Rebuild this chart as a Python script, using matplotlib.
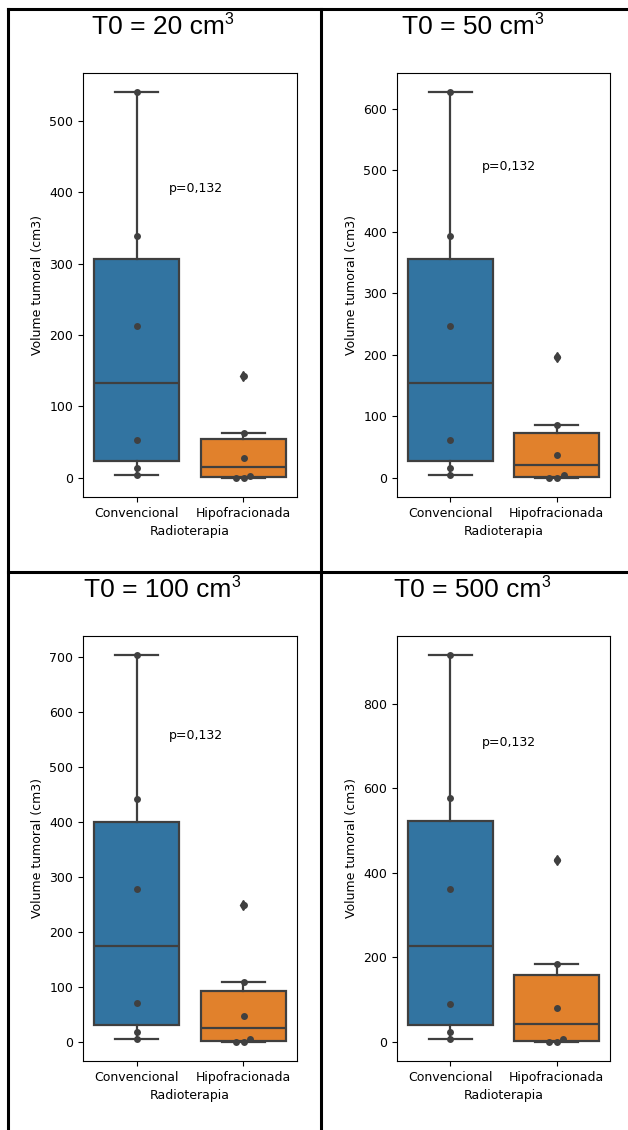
import matplotlib
matplotlib.use("Agg")
import matplotlib.pyplot as plt
from matplotlib.lines import Line2D
import numpy as np
import pandas as pd
import seaborn as sns

# volumes (6 patients per arm)
titles = ["20", "50", "100", "500"]
conv_20 = [4, 14, 53, 213, 338, 540]
hipo_20 = [0, 0, 3, 27, 63, 143]
conv_50 = [4, 16, 62, 247, 393, 627]
hipo_50 = [0, 0, 4, 37, 85, 197]
conv_100 = [4, 18, 70, 277, 441, 703]
hipo_100 = [0, 0, 5, 46, 108, 249]
conv_500 = [7, 24, 90, 362, 576, 915]
hipo_500 = [0, 0, 7, 79, 184, 430]
p_text_y = [400, 500, 550, 700]
groups = ["Convencional", "Hipofracionada"]

W, H = 628, 1130
fig = plt.figure(figsize=(W / 100, H / 100), dpi=100)
renderer = fig.canvas.get_renderer()

def rect(left, top, right, bottom):
    return [left / W, 1 - bottom / H, (right - left) / W, (bottom - top) / H]

# pixel boxes of the four axes
boxes = [rect(83, 73, 297, 497), rect(397, 73, 610, 497),
         rect(83, 636, 297, 1061), rect(397, 636, 610, 1061)]
# title centre x and baseline y, in pixels
title_pos = [(158, 34), (468, 34), (158, 597), (468, 597)]
data = [(conv_20, hipo_20), (conv_50, hipo_50), (conv_100, hipo_100), (conv_500, hipo_500)]
colors = ["#3274a1", "#e1812c"]
edge = "#3f3f3f"

for i in range(4):
    ax = fig.add_axes(boxes[i])
    conv, hipo = data[i]
    bp = ax.boxplot([conv, hipo], positions=[0, 1], widths=0.8, patch_artist=True,
                    boxprops=dict(edgecolor=edge, linewidth=1.6),
                    medianprops=dict(color=edge, linewidth=1.6),
                    whiskerprops=dict(color=edge, linewidth=1.6),
                    capprops=dict(color=edge, linewidth=1.6),
                    flierprops=dict(marker="d", markerfacecolor=edge,
                                    markeredgecolor=edge, markersize=5))
    for patch, c in zip(bp["boxes"], colors):
        patch.set_facecolor(c)

    df = pd.DataFrame({
        "Radioterapia": [groups[0]] * len(conv) + [groups[1]] * len(hipo),
        "Volume tumoral (cm3)": conv + hipo,
    })
    sns.swarmplot(data=df, x="Radioterapia", y="Volume tumoral (cm3)",
                  color=".25", size=5, zorder=3, ax=ax)
    ax.set_xlim(-0.5, 1.5)
    ax.set_xticks([0, 1])
    ax.set_xticklabels(groups)
    ax.tick_params(labelsize=9)
    ax.set_xlabel("Radioterapia", fontsize=9)
    ax.set_ylabel("Volume tumoral (cm3)", fontsize=9)
    ax.text(0.3, p_text_y[i], "p=0,132", fontsize=9)

    # title with a raised "3"
    tx, ty = title_pos[i]
    t = fig.text(tx / W, 1 - ty / H, "T0 = " + titles[i] + " cm",
                 ha="center", va="baseline", fontsize=19, family="Liberation Sans")
    bb = t.get_window_extent(renderer)
    fig.text(bb.x1 / W, 1 - (ty - 10) / H, "3",
             ha="left", va="baseline", fontsize=11.5, family="Liberation Sans")

# table borders
lw = 2.2
fig.add_artist(Line2D([8 / W, 1], [1 - 9 / H] * 2, color="black", lw=lw))
fig.add_artist(Line2D([8 / W, 1], [1 - 572 / H] * 2, color="black", lw=lw))
fig.add_artist(Line2D([8 / W] * 2, [0, 1 - 9 / H], color="black", lw=lw))
fig.add_artist(Line2D([321 / W] * 2, [0, 1 - 9 / H], color="black", lw=lw))

fig.savefig("out.png", dpi=100)
